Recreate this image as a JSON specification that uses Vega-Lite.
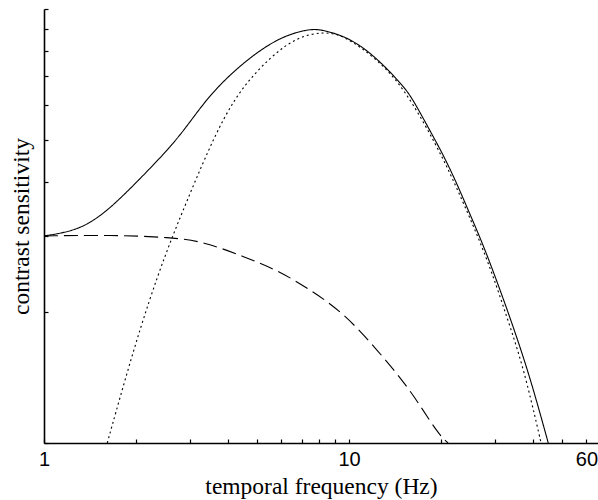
{
  "$schema": "https://vega.github.io/schema/vega-lite/v6.json",
  "autosize": "none",
  "width": 554,
  "height": 434,
  "padding": {"left": 44, "top": 9, "right": 0, "bottom": 57},
  "background": "white",
  "config": {"view": {"stroke": null}},
  "data": {
    "values": [
      {"f": 1, "s": 3.0, "curve": "total"},
      {"f": 1.163, "s": 3.05, "curve": "total"},
      {"f": 1.353, "s": 3.15, "curve": "total"},
      {"f": 1.612, "s": 3.42, "curve": "total"},
      {"f": 2.022, "s": 4.0, "curve": "total"},
      {"f": 2.669, "s": 4.9, "curve": "total"},
      {"f": 3.103, "s": 5.66, "curve": "total"},
      {"f": 3.609, "s": 6.5, "curve": "total"},
      {"f": 4.526, "s": 7.56, "curve": "total"},
      {"f": 5.82, "s": 8.56, "curve": "total"},
      {"f": 7.12, "s": 8.94, "curve": "total"},
      {"f": 7.7, "s": 8.98, "curve": "total"},
      {"f": 8.279, "s": 8.94, "curve": "total"},
      {"f": 10.13, "s": 8.56, "curve": "total"},
      {"f": 12.38, "s": 7.7, "curve": "total"},
      {"f": 15.15, "s": 6.62, "curve": "total"},
      {"f": 16.25, "s": 6.17, "curve": "total"},
      {"f": 19.39, "s": 4.91, "curve": "total"},
      {"f": 20.48, "s": 4.57, "curve": "total"},
      {"f": 22.55, "s": 3.97, "curve": "total"},
      {"f": 24.93, "s": 3.36, "curve": "total"},
      {"f": 27.92, "s": 2.8, "curve": "total"},
      {"f": 33.73, "s": 1.95, "curve": "total"},
      {"f": 39.21, "s": 1.42, "curve": "total"},
      {"f": 45.0, "s": 1.0, "curve": "total"},
      {"f": 1.612, "s": 1.0, "curve": "transient"},
      {"f": 1.829, "s": 1.373, "curve": "transient"},
      {"f": 2.075, "s": 1.853, "curve": "transient"},
      {"f": 2.352, "s": 2.416, "curve": "transient"},
      {"f": 2.634, "s": 2.988, "curve": "transient"},
      {"f": 2.951, "s": 3.63, "curve": "transient"},
      {"f": 3.346, "s": 4.488, "curve": "transient"},
      {"f": 3.893, "s": 5.647, "curve": "transient"},
      {"f": 4.526, "s": 6.68, "curve": "transient"},
      {"f": 5.538, "s": 7.766, "curve": "transient"},
      {"f": 6.769, "s": 8.634, "curve": "transient"},
      {"f": 8.279, "s": 8.87, "curve": "transient"},
      {"f": 9.63, "s": 8.7, "curve": "transient"},
      {"f": 12.38, "s": 7.66, "curve": "transient"},
      {"f": 15.15, "s": 6.58, "curve": "transient"},
      {"f": 19.39, "s": 4.85, "curve": "transient"},
      {"f": 22.55, "s": 3.88, "curve": "transient"},
      {"f": 28.28, "s": 2.687, "curve": "transient"},
      {"f": 32.89, "s": 1.954, "curve": "transient"},
      {"f": 37.28, "s": 1.499, "curve": "transient"},
      {"f": 42.29, "s": 1.025, "curve": "transient"},
      {"f": 42.6, "s": 1.0, "curve": "transient"},
      {"f": 1, "s": 3.0, "curve": "sustained"},
      {"f": 1.654, "s": 3.015, "curve": "sustained"},
      {"f": 2.603, "s": 2.979, "curve": "sustained"},
      {"f": 3.346, "s": 2.91, "curve": "sustained"},
      {"f": 4.526, "s": 2.687, "curve": "sustained"},
      {"f": 5.82, "s": 2.504, "curve": "sustained"},
      {"f": 7.487, "s": 2.252, "curve": "sustained"},
      {"f": 9.63, "s": 1.99, "curve": "sustained"},
      {"f": 12.38, "s": 1.638, "curve": "sustained"},
      {"f": 15.93, "s": 1.325, "curve": "sustained"},
      {"f": 19.48, "s": 1.053, "curve": "sustained"},
      {"f": 21.12, "s": 1.0, "curve": "sustained"}
    ]
  },
  "mark": {"type": "line", "color": "black", "strokeWidth": 1.1, "interpolate": "basis", "clip": true},
  "encoding": {
    "x": {
      "field": "f",
      "type": "quantitative",
      "scale": {"type": "log", "domain": [1, 65.5], "nice": false},
      "axis": {
        "title": "temporal frequency (Hz)",
        "values": [1, 2, 3, 4, 5, 6, 7, 8, 9, 10, 20, 30, 40, 50, 60],
        "format": "d",
        "labelExpr": "(datum.value == 1 || datum.value == 10 || datum.value == 60) ? datum.label : ''",
        "labelOverlap": false,
        "labelFlush": false,
        "grid": false,
        "domainColor": "black",
        "domainWidth": 1.6,
        "tickColor": "black",
        "tickWidth": 1.2,
        "tickSize": -4,
        "labelPadding": 10,
        "labelFont": "Liberation Sans",
        "labelFontSize": 20,
        "labelColor": "black",
        "titleFont": "Liberation Serif",
        "titleFontSize": 23.5,
        "titleFontWeight": "normal",
        "titleColor": "black",
        "titlePadding": 5
      }
    },
    "y": {
      "field": "s",
      "type": "quantitative",
      "scale": {"type": "log", "domain": [1, 10], "nice": false},
      "axis": {
        "title": "contrast sensitivity",
        "values": [1, 2, 3, 4, 5, 6, 7, 8, 9, 10],
        "labels": false,
        "grid": false,
        "domainColor": "black",
        "domainWidth": 1.6,
        "tickColor": "black",
        "tickWidth": 1.2,
        "tickSize": -4,
        "titleFont": "Liberation Serif",
        "titleFontSize": 23.5,
        "titleFontWeight": "normal",
        "titleColor": "black",
        "titlePadding": 10
      }
    },
    "strokeDash": {
      "field": "curve",
      "type": "nominal",
      "scale": {"domain": ["total", "sustained", "transient"], "range": [[1, 0], [14, 6], [2, 3]]},
      "legend": null
    }
  }
}
